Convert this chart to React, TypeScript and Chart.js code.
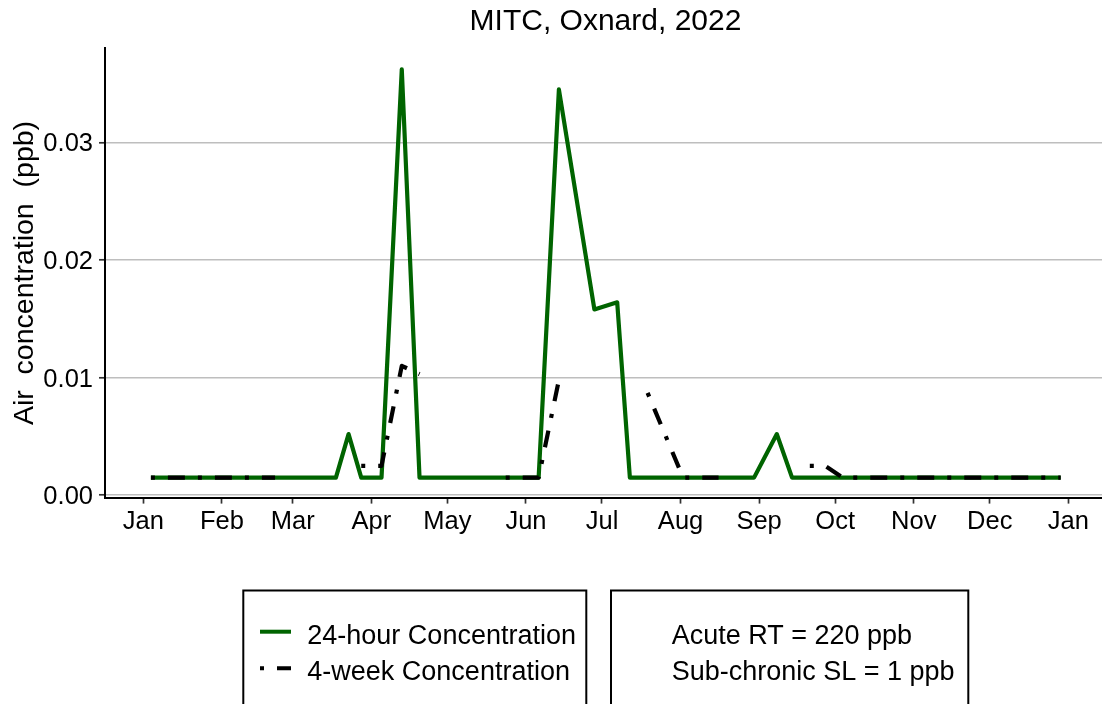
import React, { useEffect, useRef } from "react";
import { Chart, registerables } from "chart.js";

Chart.register(...registerables);

// ---------- data ----------
const TITLE = "MITC, Oxnard, 2022";
const Y_TITLE = "Air  concentration  (ppb)";

// x axis: day of year 2022 (0 = Jan 1)
const MONTH_LABELS = ["Jan", "Feb", "Mar", "Apr", "May", "Jun", "Jul", "Aug", "Sep", "Oct", "Nov", "Dec", "Jan"];
const MONTH_START_DAYS = [0, 31, 59, 90, 120, 151, 181, 212, 243, 273, 304, 334, 365];
const Y_TICKS = [0, 0.01, 0.02, 0.03];

// 24-hour concentration (ppb)
const DAYS_24H = [3, 76, 81, 86, 94, 102, 109, 156, 164, 178, 187, 192, 241, 250, 256, 362];
const CONC_24H = [0.0015, 0.0015, 0.0052, 0.0015, 0.0015, 0.0362, 0.0015, 0.0015, 0.0345, 0.0158, 0.0164, 0.0015, 0.0015, 0.0052, 0.0015, 0.0015];

// 4-week concentration (ppb); null = no value (gap)
const DAYS_4WK = [3, 52, 70, 86, 94, 102, 109, 125, 143, 156, 164, 180, 199, 213, 227, 245, 263, 269, 276, 362];
const CONC_4WK = [0.0015, 0.0015, null, 0.0025, 0.0025, 0.011, 0.0103, null, 0.0015, 0.0015, 0.0098, null, 0.0087, 0.0015, 0.0015, null, 0.0025, 0.0025, 0.0015, 0.0015];

const SERIES_LABELS = ["24-hour Concentration", "4-week Concentration"];
const LIMIT_LABELS = ["Acute RT = 220 ppb", "Sub-chronic SL = 1 ppb"];

// ---------- styles ----------
const FONT = "'Liberation Sans', Arial, Helvetica, sans-serif";
const GREEN = "#006400";
const BLACK = "#000000";
const DOTDASH = [4, 13, 17, 13];

const decorPlugin = {
  id: "decor",
  afterDraw(chart: any) {
    const ctx = chart.ctx as CanvasRenderingContext2D;
    const ds = chart.data.datasets;
    ctx.save();
    ctx.fillStyle = "#000";
    // title
    ctx.font = `30px ${FONT}`;
    ctx.textAlign = "center";
    ctx.textBaseline = "alphabetic";
    ctx.fillText(TITLE, 605.5, 30);

    // y title
    ctx.save();
    ctx.translate(33, 273);
    ctx.rotate(-Math.PI / 2);
    ctx.font = `28.5px ${FONT}`;
    ctx.textAlign = "center";
    ctx.fillText(Y_TITLE, 0, 0);
    ctx.restore();

    // legend boxes
    ctx.strokeStyle = "#000";
    ctx.lineWidth = 2;
    ctx.strokeRect(243.3, 590.5, 343, 120);
    ctx.strokeRect(611, 590.5, 357.3, 120);

    // keys
    ctx.lineCap = "butt";
    ctx.lineWidth = 4;
    ctx.strokeStyle = ds[0].borderColor;
    ctx.setLineDash([]);
    ctx.beginPath();
    ctx.moveTo(260, 631.7);
    ctx.lineTo(291, 631.7);
    ctx.stroke();
    ctx.strokeStyle = ds[1].borderColor;
    ctx.setLineDash(ds[1].borderDash);
    ctx.beginPath();
    ctx.moveTo(260, 668.3);
    ctx.lineTo(291, 668.3);
    ctx.stroke();
    ctx.setLineDash([]);

    // legend texts
    ctx.font = `27px ${FONT}`;
    ctx.textAlign = "left";
    ctx.textBaseline = "alphabetic";
    ctx.fillText(SERIES_LABELS[0], 307.3, 644);
    ctx.fillText(SERIES_LABELS[1], 307.3, 680);
    ctx.fillText(LIMIT_LABELS[0], 671.7, 644);
    ctx.fillText(LIMIT_LABELS[1], 671.7, 680);
    ctx.restore();
  },
};

export default function App() {
  const ref = useRef<HTMLCanvasElement | null>(null);

  useEffect(() => {
    const canvas = ref.current;
    if (!canvas) return;
    const chart = new Chart(canvas, {
      type: "line",
      data: {
        datasets: [
          {
            label: SERIES_LABELS[0],
            data: DAYS_24H.map((d, i) => ({ x: d, y: CONC_24H[i] })),
            borderColor: GREEN,
            backgroundColor: GREEN,
            borderWidth: 4.2,
            borderJoinStyle: "round",
            borderCapStyle: "butt",
            pointRadius: 0,
            tension: 0,
            order: 2,
          },
          {
            label: SERIES_LABELS[1],
            data: DAYS_4WK.map((d, i) => ({ x: d, y: CONC_4WK[i] })),
            borderColor: BLACK,
            backgroundColor: BLACK,
            borderWidth: 4.2,
            borderDash: DOTDASH,
            borderJoinStyle: "round",
            borderCapStyle: "butt",
            pointRadius: 0,
            tension: 0,
            spanGaps: false,
            order: 1,
          },
        ],
      } as any,
      options: {
        animation: false,
        responsive: false,
        maintainAspectRatio: false,
        devicePixelRatio: 1,
        layout: { padding: { top: 48.3, left: 0, right: 0, bottom: 0 } },
        plugins: {
          legend: { display: false },
          title: { display: false },
          tooltip: { enabled: false },
        },
        scales: {
          x: {
            type: "linear",
            min: -15.11,
            max: 378.3,
            afterBuildTicks: (s: any) => {
              s.ticks = MONTH_START_DAYS.map((v) => ({ value: v }));
            },
            afterFit: (s: any) => {
              s.height = 704 - 497.6;
            },
            ticks: {
              autoSkip: false,
              maxRotation: 0,
              minRotation: 0,
              padding: 3,
              color: "#000",
              font: { family: FONT, size: 25.5 },
              callback: (_v: any, i: number) => MONTH_LABELS[i],
            },
            grid: {
              drawOnChartArea: false,
              drawTicks: true,
              tickLength: 6,
              tickColor: "#333333",
              tickWidth: 1.7,
            },
            border: { display: true, color: "#000", width: 2 },
          },
          y: {
            type: "linear",
            min: -0.0002,
            max: 0.038,
            afterBuildTicks: (s: any) => {
              s.ticks = Y_TICKS.map((v) => ({ value: v }));
            },
            afterFit: (s: any) => {
              s.width = 105;
            },
            ticks: {
              padding: 6,
              color: "#000",
              labelOffset: 2,
              font: { family: FONT, size: 25.5 },
              callback: (v: any) => Number(v).toFixed(2),
            },
            grid: {
              color: "#bebebe",
              lineWidth: 1.6,
              drawTicks: true,
              tickLength: 6,
              tickColor: "#333333",
              tickWidth: 1.7,
            },
            border: { display: true, color: "#000", width: 2 },
          },
        },
      } as any,
      plugins: [decorPlugin],
    });
    return () => chart.destroy();
  }, []);

  return (
    <div style={{ position: "absolute", left: 0, top: 0, width: 1102, height: 704, background: "#fff" }}>
      <canvas ref={ref} width={1102} height={704} style={{ width: 1102, height: 704, display: "block" }} />
    </div>
  );
}
